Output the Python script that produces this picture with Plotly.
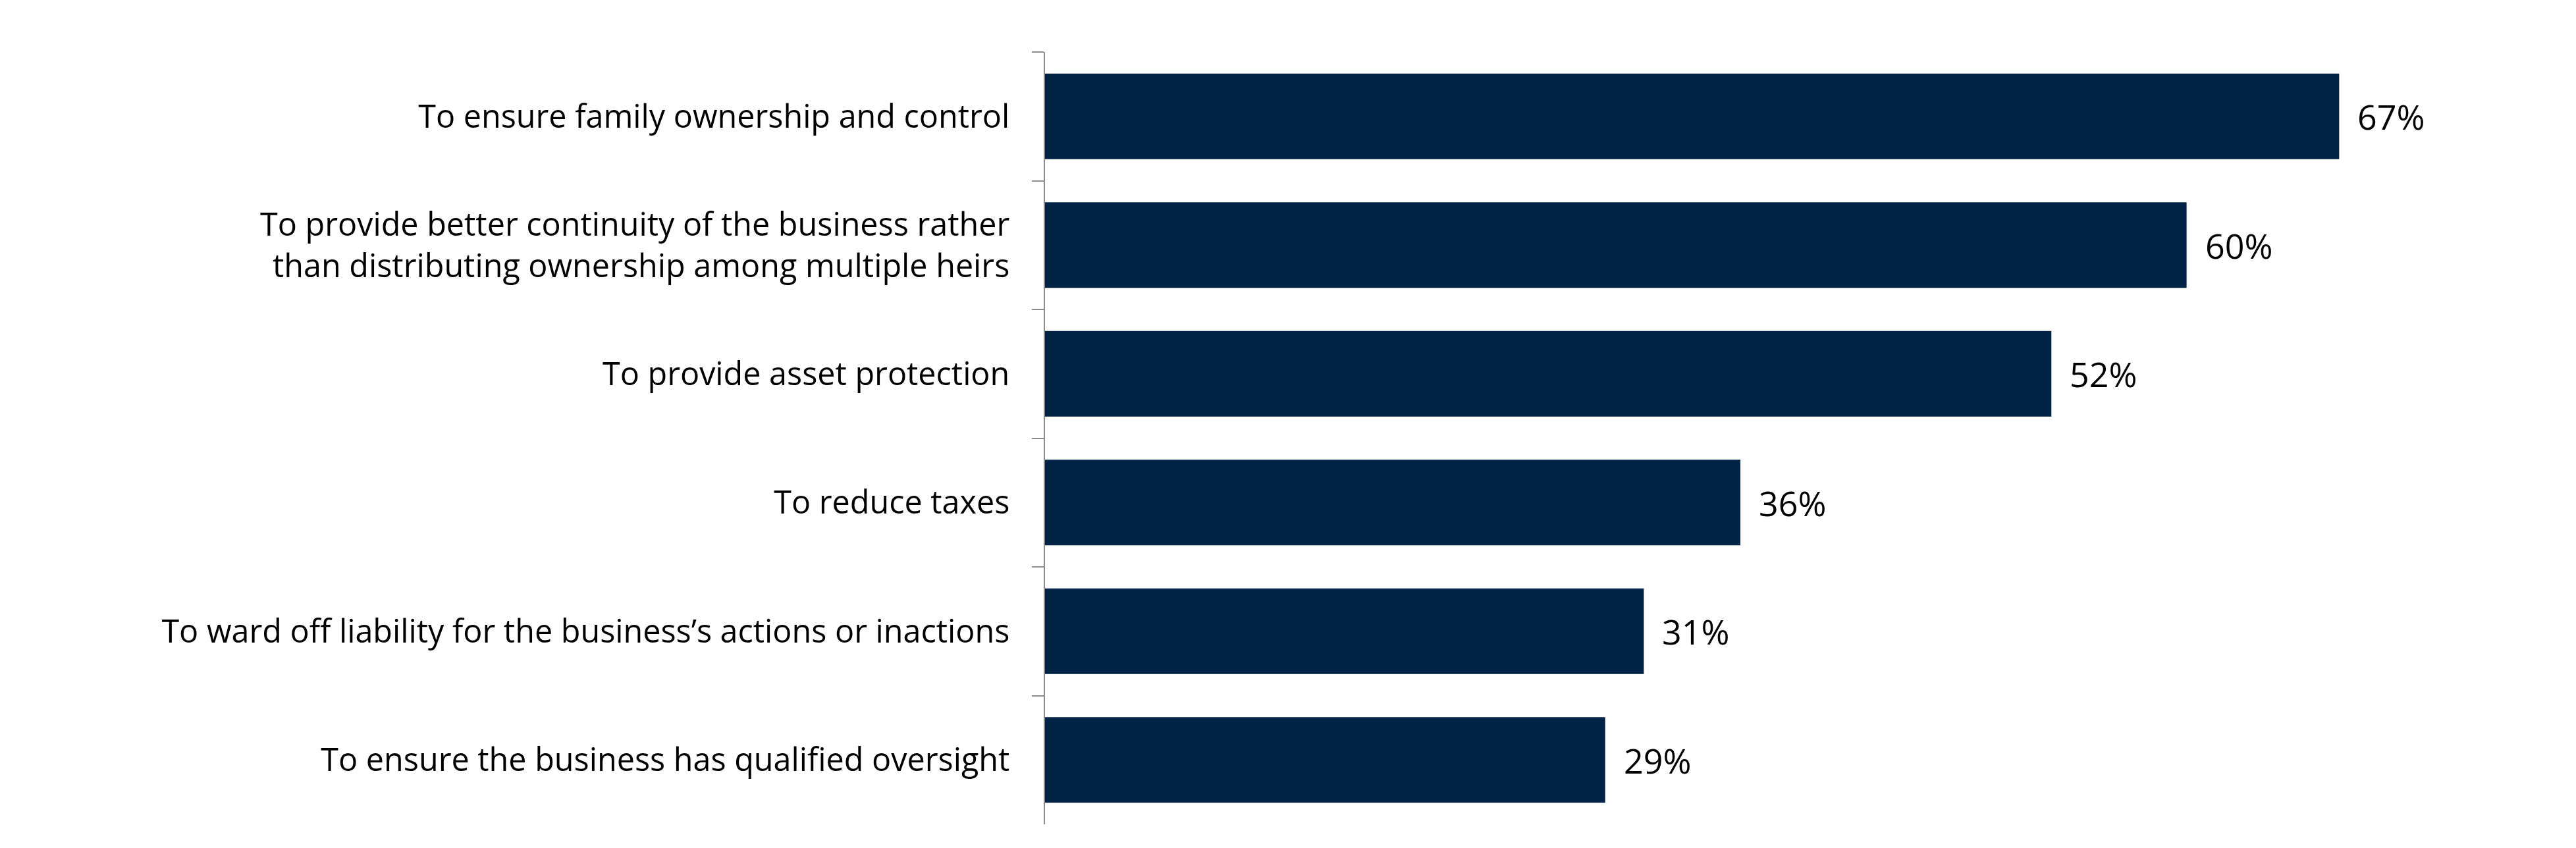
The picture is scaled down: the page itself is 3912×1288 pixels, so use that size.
import plotly.graph_objects as go

reasons = [
    "To ensure family ownership and control",
    "To provide better continuity of the business rather<br>than distributing ownership among multiple heirs",
    "To provide asset protection",
    "To reduce taxes",
    "To ward off liability for the business\u2019s actions or inactions",
    "To ensure the business has qualified oversight",
]
# bar lengths as drawn (the second bar is a little short of its 60% label)
shares = [67, 59.1, 52.1, 36, 31, 29]
share_labels = ["67%", "60%", "52%", "36%", "31%", "29%"]

BAR_COLOR = "#012345"
FONT = "Open Sans"

fig = go.Figure()
fig.add_trace(
    go.Bar(
        x=shares,
        y=reasons,
        orientation="h",
        marker=dict(color=BAR_COLOR, line=dict(width=0)),
        width=0.665,
        hoverinfo="skip",
    )
)

# value labels just past the end of each bar
for reason, share, label in zip(reasons, shares, share_labels):
    fig.add_annotation(
        x=share,
        y=reason,
        text=label,
        showarrow=False,
        xanchor="left",
        xshift=26,
        font=dict(family=FONT, size=52, color="#000000"),
    )

# page body has an 8px margin, so the figure is 8px smaller each way
fig.update_layout(
    width=3904,
    height=1280,
    margin=dict(l=1579, r=213, t=71, b=36),
    plot_bgcolor="white",
    paper_bgcolor="white",
    showlegend=False,
    font=dict(family=FONT, size=48.5, color="#000000"),
    xaxis=dict(
        range=[0, 72],
        visible=False,
        showgrid=False,
        zeroline=False,
        automargin=False,
    ),
    yaxis=dict(
        autorange="reversed",
        type="category",
        automargin=False,
        showline=True,
        linecolor="#8c8c8c",
        linewidth=2,
        ticks="outside",
        tickson="boundaries",
        ticklen=18,
        tickwidth=2,
        tickcolor="#8c8c8c",
        ticklabelstandoff=42,
        showgrid=False,
        zeroline=False,
        tickfont=dict(family=FONT, size=48.5, color="#000000"),
    ),
)

fig.write_html("out.html")
